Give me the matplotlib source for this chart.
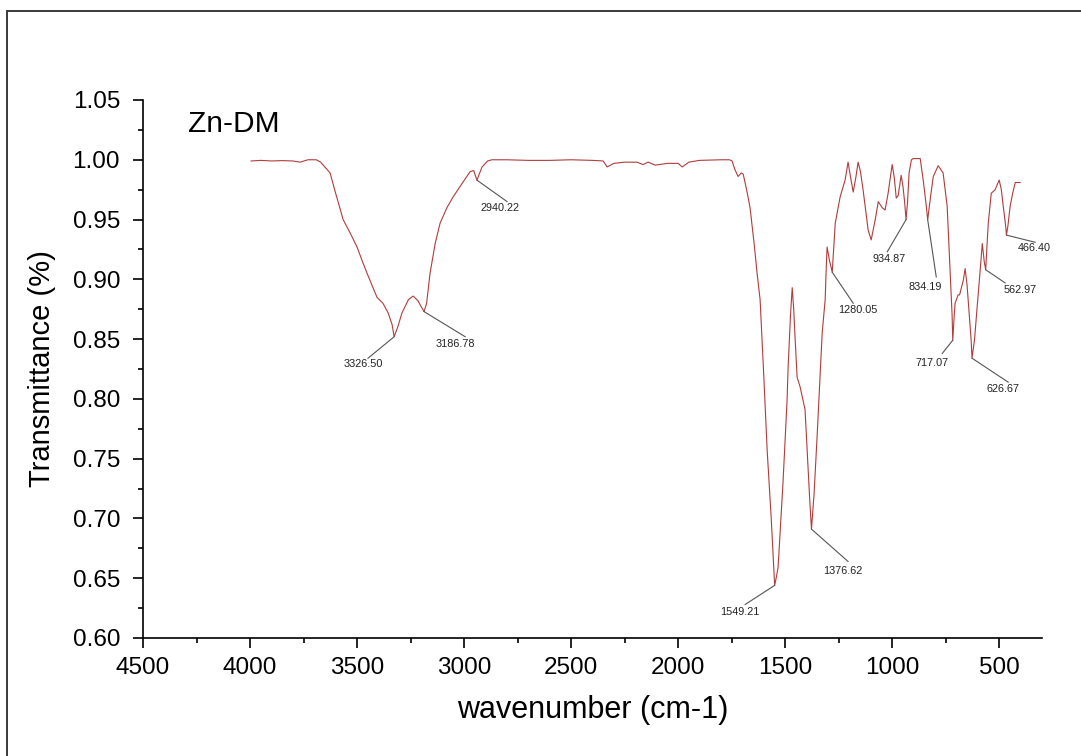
import matplotlib
matplotlib.use("Agg")
import matplotlib.pyplot as plt
from matplotlib.patches import Rectangle
from matplotlib.ticker import MultipleLocator

plt.rcParams['font.family'] = ['Liberation Sans', 'DejaVu Sans']

# ---- spectrum data ----
wavenumber = [3995, 3950, 3900, 3850, 3800, 3766, 3730, 3690, 3670, 3626, 3600, 3565,
              3530, 3500, 3475, 3453, 3430, 3407, 3379, 3355, 3336, 3327, 3310, 3290,
              3260, 3238, 3215, 3200, 3187, 3175, 3159, 3135, 3112, 3080, 3051, 3010,
              2972, 2955, 2940, 2925, 2916, 2890, 2870, 2800, 2700, 2600, 2500, 2400,
              2350, 2332, 2300, 2250, 2192, 2164, 2140, 2107, 2050, 2000, 1981, 1950,
              1900, 1800, 1760, 1748, 1735, 1720, 1705, 1696, 1680, 1664, 1645, 1631,
              1617, 1600, 1584, 1565, 1555, 1549, 1540, 1533, 1510, 1491, 1486, 1475,
              1467, 1460, 1453, 1444, 1430, 1407, 1393, 1385, 1377, 1365, 1350, 1327,
              1313, 1308, 1304, 1292, 1280, 1266, 1243, 1220, 1206, 1194, 1182, 1170,
              1159, 1148, 1136, 1112, 1098, 1079, 1065, 1047, 1033, 1019, 1000, 990,
              981, 972, 958, 949, 942, 935, 928, 921, 910, 902, 869, 855, 843, 834,
              820, 808, 785, 762, 743, 729, 720, 717, 710, 706, 692, 685, 668, 659,
              650, 645, 631, 627, 615, 603, 590, 579, 570, 563, 558, 551, 537, 519,
              500, 490, 481, 470, 466, 459, 449, 437, 425, 402]
transmittance = [0.999, 0.9995, 0.999, 0.9993, 0.999, 0.998, 1.0, 1.0, 0.998, 0.989, 0.972, 0.950,
                 0.938, 0.927, 0.915, 0.905, 0.895, 0.885, 0.880, 0.872, 0.862, 0.852, 0.860, 0.872,
                 0.883, 0.886, 0.882, 0.877, 0.873, 0.880, 0.905, 0.930, 0.947, 0.960, 0.969, 0.980,
                 0.990, 0.991, 0.983, 0.990, 0.994, 0.999, 1.0, 1.0, 0.9995, 0.9995, 1.0, 0.9995,
                 0.999, 0.994, 0.997, 0.998, 0.998, 0.996, 0.998, 0.9955, 0.997, 0.997, 0.994, 0.998,
                 0.9995, 1.0, 1.0, 0.999, 0.992, 0.986, 0.989, 0.988, 0.975, 0.960, 0.930, 0.905,
                 0.883, 0.820, 0.757, 0.700, 0.665, 0.644, 0.652, 0.659, 0.730, 0.799, 0.827, 0.870,
                 0.893, 0.875, 0.849, 0.818, 0.810, 0.791, 0.743, 0.715, 0.691, 0.720, 0.771, 0.855,
                 0.883, 0.910, 0.927, 0.915, 0.906, 0.947, 0.969, 0.983, 0.998, 0.985, 0.973, 0.985,
                 0.998, 0.990, 0.975, 0.941, 0.933, 0.950, 0.965, 0.960, 0.958, 0.972, 0.996, 0.985,
                 0.968, 0.970, 0.987, 0.977, 0.965, 0.950, 0.965, 0.989, 1.0, 1.001, 1.001, 0.983, 0.965, 0.950,
                 0.970, 0.986, 0.995, 0.989, 0.961, 0.905, 0.870, 0.849, 0.870, 0.880, 0.887, 0.887, 0.899, 0.909,
                 0.895, 0.883, 0.849, 0.834, 0.850, 0.877, 0.905, 0.930, 0.915, 0.908, 0.925, 0.947, 0.972, 0.975,
                 0.983, 0.975, 0.961, 0.945, 0.937, 0.945, 0.961, 0.972, 0.981, 0.981]

# ---- peak annotations ----
peak_labels = ["3326.50", "3186.78", "2940.22", "1549.21", "1376.62", "1280.05",
               "934.87", "834.19", "717.07", "626.67", "562.97", "466.40"]
peak_x = [3326.50, 3186.78, 2940.22, 1549.21, 1376.62, 1280.05,
          934.87, 834.19, 717.07, 626.67, 562.97, 466.40]
peak_y = [0.852, 0.873, 0.983, 0.644, 0.691, 0.906,
          0.950, 0.950, 0.849, 0.834, 0.908, 0.937]
label_x = [3472, 3042, 2832, 1710, 1229, 1159, 1014, 846, 813, 481, 402, 336]
label_y = [0.829, 0.846, 0.960, 0.622, 0.656, 0.874, 0.917, 0.894, 0.830, 0.808, 0.891, 0.926]
line_x = [3449, 2995, 2799, 1687, 1206, 1182, 1023, 794, 766, 458, 472, 332]
line_y = [0.834, 0.852, 0.965, 0.628, 0.664, 0.880, 0.923, 0.902, 0.838, 0.814, 0.897, 0.931]

sample_name = "Zn-DM"
x_ticks = [4500, 4000, 3500, 3000, 2500, 2000, 1500, 1000, 500]
y_ticks = [0.60, 0.65, 0.70, 0.75, 0.80, 0.85, 0.90, 0.95, 1.00, 1.05]

W, H = 1081, 756
fig = plt.figure(figsize=(W / 100, H / 100), dpi=100)

# outer frame (only top and left edges visible in the reference)
fig.patches.append(Rectangle((7 / W, -0.05), 1.1, (1 - 11.5 / H) + 0.05,
                             transform=fig.transFigure, fill=False,
                             edgecolor='#3a3a3a', linewidth=1.4, zorder=0))

ax = fig.add_axes([143 / W, (H - 638) / H, (1042 - 143) / W, (638 - 100) / H])
ax.plot(wavenumber, transmittance, color='#b03c3c', linewidth=0.8)

for lab, px, py, tx, ty, lx, ly in zip(peak_labels, peak_x, peak_y, label_x, label_y, line_x, line_y):
    ax.plot([px, lx], [py, ly], color='#555555', linewidth=0.8)
    ax.text(tx, ty, lab, fontsize=7.8, ha='center', va='center', color='#222222')

ax.text(0.05, 0.955, sample_name, transform=ax.transAxes, fontsize=21.5,
        ha='left', va='center')

ax.set_xlim(4500, 300)
ax.set_ylim(0.60, 1.05)
ax.set_xticks(x_ticks)
ax.set_yticks(y_ticks)
ax.set_yticklabels([f"{v:.2f}" for v in y_ticks])
ax.xaxis.set_minor_locator(MultipleLocator(250))
ax.yaxis.set_minor_locator(MultipleLocator(0.025))

for s in ['top', 'right']:
    ax.spines[s].set_visible(False)
for s in ['left', 'bottom']:
    ax.spines[s].set_linewidth(1.2)
ax.tick_params(which='major', direction='out', length=7.5, width=1.2, labelsize=17.5)
ax.tick_params(which='minor', direction='out', length=3.8, width=1.2)
ax.tick_params(axis='x', which='major', pad=6)
ax.tick_params(axis='y', which='major', pad=9)

ax.set_xlabel("wavenumber (cm-1)", fontsize=22, labelpad=12)
ax.set_ylabel("Transmittance (%)", fontsize=21, labelpad=12)

fig.savefig("out.png", dpi=100)
